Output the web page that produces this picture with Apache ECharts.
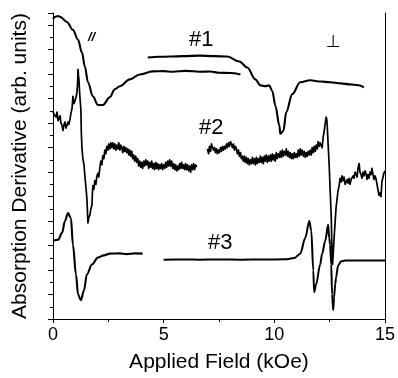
<!DOCTYPE html>
<html><head><meta charset="utf-8">
<script src="https://cdn.jsdelivr.net/npm/echarts@6/dist/echarts.min.js"></script>
<style>html,body{margin:0;padding:0;background:#fff}#c{width:398px;height:378px}</style>
</head><body><div id="c"></div>
<script>
// x: Applied Field (kOe), y: arbitrary units (offset traces)
const xTicks = [0, 5, 10, 15];
const s1Par = [[0,24.5],[0.09,24.68],[0.23,24.76],[0.32,24.68],[0.63,24.27],[0.9,23.62],[1.13,22.82],[1.31,21.76],[1.44,20.63],[1.58,19.34],[1.8,18.2],[2.03,17.48],[2.25,17.48],[2.57,18.12],[2.79,18.77],[3.02,19.01],[3.47,19.58],[3.92,19.98],[4.5,20.23],[5.0,20.25],[5.41,20.2],[6.0,20.27],[6.62,20.2],[7.1,20.22],[7.5,20.12],[8.0,20.1],[8.47,19.98]];
const s1Perp = [[4.28,21.36],[4.8,21.42],[5.27,21.44],[5.9,21.48],[6.62,21.52],[7.3,21.48],[7.88,21.44],[8.42,21.04],[8.78,20.55],[9.14,19.58],[9.37,19.09],[9.59,19.01],[9.77,19.09],[9.91,18.61],[10.05,17.39],[10.23,15.78],[10.27,15.13],[10.41,15.37],[10.54,16.91],[10.81,18.37],[11.17,19.34],[11.62,19.5],[12.1,19.4],[12.52,19.34],[13.0,19.25],[13.42,19.17],[13.8,19.1],[14.05,18.93]];
const s2Par = [[0.00,16.95],[0.05,16.7],[0.09,16.8],[0.14,16.5],[0.18,16.9],[0.23,16.2],[0.27,16.4],[0.32,16.6],[0.36,16.0],[0.41,15.8],[0.45,15.4],[0.50,15.9],[0.54,16.1],[0.59,15.6],[0.63,15.5],[0.68,16.1],[0.72,15.9],[0.77,16.35],[0.81,16.8],[0.86,17.2],[0.90,18.2],[0.95,17.6],[0.99,17.8],[1.04,18.1],[1.08,18.5],[1.11,19.2],[1.13,20.4],[1.15,19.9],[1.17,19.6],[1.21,18.3],[1.26,17.1],[1.28,15.2],[1.31,13.9],[1.35,13.1],[1.40,12.6],[1.44,11.7],[1.49,10.7],[1.53,9.9],[1.56,8.6],[1.58,7.85],[1.62,8.3],[1.67,8.5],[1.71,9.0],[1.76,9.3],[1.78,10.3],[1.80,10.9],[1.85,10.6],[1.89,11.3],[1.94,11.0],[1.98,11.65],[2.03,11.9],[2.07,11.6],[2.12,12.4],[2.16,12.9],[2.21,12.6],[2.25,13.35],[2.30,13.1],[2.34,13.8],[2.39,13.5],[2.43,14.1],[2.48,13.8],[2.52,14.3],[2.57,13.9],[2.61,14.4],[2.66,14.0],[2.70,14.4],[2.75,13.9],[2.79,14.3],[2.84,13.8],[2.88,14.2],[2.93,13.9],[2.97,14.4],[3.02,13.8],[3.06,14.2],[3.11,14.0],[3.15,13.6],[3.20,14.1],[3.24,13.7],[3.29,14.0],[3.33,13.6],[3.38,13.9],[3.42,13.4],[3.47,13.8],[3.51,13.3],[3.56,13.7],[3.60,13.1],[3.65,13.4],[3.69,12.9],[3.74,13.3],[3.78,12.8],[3.83,13.1],[3.87,12.5],[3.92,12.9],[3.96,12.4],[4.01,12.8],[4.05,12.3],[4.10,12.9],[4.14,12.5],[4.19,13.0],[4.23,12.6],[4.28,12.9],[4.32,12.3],[4.37,12.8],[4.41,12.4],[4.46,12.9],[4.50,12.3],[4.55,12.7],[4.59,12.2],[4.64,12.8],[4.68,12.3],[4.73,12.7],[4.77,12.2],[4.82,12.6],[4.86,12.3],[4.91,12.7],[4.95,12.2],[5.00,12.6],[5.05,12.3],[5.09,12.8],[5.14,12.4],[5.18,12.9],[5.23,12.5],[5.27,13.0],[5.32,12.5],[5.36,12.9],[5.41,12.3],[5.45,12.7],[5.50,12.2],[5.54,12.6],[5.59,12.1],[5.63,12.5],[5.68,12.2],[5.72,12.7],[5.77,12.3],[5.81,12.8],[5.86,12.3],[5.90,12.6],[5.95,12.2],[5.99,12.7],[6.04,12.2],[6.08,12.6],[6.13,12.1],[6.17,12.5],[6.22,12.0],[6.26,12.6],[6.31,12.2],[6.35,12.7],[6.40,12.2],[6.44,12.6],[6.49,12.4]];
const s2Perp = [[6.98,13.9],[7.03,13.5],[7.07,14.1],[7.12,13.7],[7.16,14.3],[7.21,14.3],[7.25,13.8],[7.30,14.0],[7.34,13.6],[7.39,13.9],[7.43,13.5],[7.48,13.8],[7.52,13.6],[7.57,14.0],[7.61,13.7],[7.66,14.1],[7.70,13.8],[7.75,14.1],[7.79,13.9],[7.84,14.3],[7.88,14.0],[7.93,14.4],[7.97,14.1],[8.02,14.5],[8.06,14.5],[8.11,14.0],[8.15,14.3],[8.20,13.8],[8.24,14.1],[8.29,13.9],[8.33,13.5],[8.38,13.8],[8.42,13.3],[8.47,13.6],[8.51,13.1],[8.56,13.3],[8.60,12.9],[8.65,13.3],[8.69,12.8],[8.74,13.2],[8.78,12.7],[8.83,13.1],[8.87,12.6],[8.92,13.0],[8.96,12.7],[9.01,13.2],[9.05,12.7],[9.10,13.1],[9.14,12.6],[9.19,13.2],[9.23,12.7],[9.28,13.1],[9.32,12.8],[9.37,13.3],[9.41,12.8],[9.46,13.2],[9.50,12.7],[9.55,13.3],[9.59,12.9],[9.64,13.4],[9.68,12.8],[9.73,13.3],[9.77,12.9],[9.82,13.4],[9.86,12.9],[9.91,13.5],[9.95,13.0],[10.00,13.4],[10.04,12.9],[10.09,13.6],[10.13,13.1],[10.18,13.5],[10.23,13.2],[10.27,13.7],[10.32,13.2],[10.36,13.8],[10.41,13.3],[10.45,13.7],[10.50,13.4],[10.54,13.9],[10.59,13.3],[10.63,13.7],[10.68,13.2],[10.72,13.6],[10.77,13.1],[10.81,13.5],[10.86,13.1],[10.90,13.6],[10.95,13.2],[10.99,13.5],[11.04,13.2],[11.08,13.8],[11.13,13.3],[11.17,13.9],[11.22,13.4],[11.26,13.8],[11.31,13.3],[11.35,13.7],[11.40,13.2],[11.44,13.6],[11.49,13.3],[11.53,13.7],[11.58,13.4],[11.62,13.8],[11.67,13.4],[11.71,14.0],[11.76,13.6],[11.80,14.1],[11.85,13.7],[11.89,14.2],[11.94,13.9],[11.98,14.5],[12.03,14.1],[12.07,14.4],[12.12,14.5],[12.16,14.0],[12.21,14.9],[12.25,15.3],[12.30,16.0],[12.34,16.5],[12.37,16.3],[12.39,15.8],[12.43,14.3],[12.48,12.5],[12.52,10.6],[12.57,8.5],[12.59,6.8],[12.61,5.0],[12.63,4.45],[12.66,5.3],[12.70,6.6],[12.75,8.0],[12.79,9.1],[12.84,9.9],[12.88,10.5],[12.93,10.9],[12.97,11.5],[13.02,11.2],[13.06,11.7],[13.11,11.3],[13.15,11.6],[13.20,11.0],[13.24,10.9],[13.29,11.4],[13.33,11.1],[13.38,11.5],[13.42,11.0],[13.47,11.4],[13.51,11.25],[13.56,11.7],[13.60,11.5],[13.65,12.0],[13.69,12.1],[13.74,11.6],[13.78,12.3],[13.83,12.7],[13.87,12.0],[13.92,11.8],[13.96,11.5],[14.01,12.0],[14.05,11.7],[14.10,12.1],[14.14,11.9],[14.19,11.4],[14.23,11.8],[14.28,11.5],[14.32,12.0],[14.37,11.8],[14.41,12.3],[14.46,11.8],[14.50,11.4],[14.55,11.7],[14.59,11.5],[14.64,11.0],[14.68,10.6],[14.73,10.1],[14.78,10.3],[14.82,10.0],[14.86,11.2],[14.91,11.6],[14.95,11.9],[15.00,12.1]];
const s3Par = [[0,6.39],[0.23,6.47],[0.41,7.04],[0.54,8.01],[0.68,8.66],[0.81,8.25],[0.9,6.07],[1.04,3.64],[1.13,2.02],[1.26,1.54],[1.4,2.35],[1.53,3.64],[1.76,4.45],[2.03,5.02],[2.3,5.2],[2.57,5.34],[3.0,5.36],[3.33,5.3],[3.7,5.36],[4.05,5.34]];
const s3Perp = [[5.0,4.85],[6.0,4.86],[6.62,4.85],[7.5,4.87],[8.5,4.85],[9.5,4.86],[10.5,4.88],[10.9,4.98],[11.17,5.34],[11.4,6.63],[11.58,8.01],[11.67,7.2],[11.76,3.96],[11.8,2.18],[11.89,2.83],[12.07,4.45],[12.16,5.34],[12.3,6.39],[12.43,7.69],[12.48,6.63],[12.52,6.07],[12.57,4.45],[12.61,2.02],[12.66,0.73],[12.7,1.78],[12.75,2.83],[12.79,3.4],[12.88,4.37],[13.02,4.72],[13.2,4.77],[14,4.77],[15,4.77]];
const labels = ['//', '#1', '\u22A5', '#2', '#3'];

const FONT = 'Liberation Sans, Arial, sans-serif';
const chart = echarts.init(document.getElementById('c'), null, {renderer: 'canvas'});
function line(data, smooth, width) {
  return {type: 'line', data: data, showSymbol: false, symbol: 'none', animation: false,
    smooth: smooth, smoothMonotone: 'x',
    lineStyle: {color: '#000', width: width, join: 'round'}, itemStyle: {color: '#000'}, z: 3};
}
chart.setOption({
  animation: false,
  backgroundColor: '#fff',
  grid: {left: 53, right: 12, top: 13, bottom: 56, containLabel: false},
  xAxis: {
    type: 'value', min: 0, max: 15, interval: 5,
    axisLine: {lineStyle: {color: '#000', width: 1}},
    axisTick: {show: true, length: 4, lineStyle: {color: '#000'}},
    minorTick: {show: true, splitNumber: 2, length: 3, lineStyle: {color: '#000'}},
    splitLine: {show: false},
    axisLabel: {color: '#000', fontSize: 18, fontFamily: FONT, margin: 7,
      formatter: v => xTicks.indexOf(v) >= 0 ? String(v) : ''},
    name: 'Applied Field (kOe)', nameLocation: 'middle', nameGap: 33,
    nameTextStyle: {color: '#000', fontSize: 21, fontFamily: FONT}
  },
  yAxis: [{
    type: 'value', min: 0, max: 25, interval: 2,
    axisLine: {show: true, lineStyle: {color: '#000', width: 1}},
    axisTick: {show: true, length: 5, lineStyle: {color: '#000'}},
    minorTick: {show: true, splitNumber: 2, length: 3, lineStyle: {color: '#000'}},
    splitLine: {show: false},
    axisLabel: {show: false},
    name: 'Absorption Derivative (arb. units)', nameLocation: 'middle', nameGap: 22,
    nameTextStyle: {color: '#000', fontSize: 21, fontFamily: FONT}
  }, {
    type: 'value', min: 0, max: 25, position: 'right',
    axisLine: {show: true, lineStyle: {color: '#000', width: 1}},
    axisTick: {show: false}, axisLabel: {show: false}, splitLine: {show: false}
  }],
  series: [line(s1Par, 0.35, 2.1), line(s1Perp, 0.35, 2.1), line(s2Par, false, 1.7), line(s2Perp, false, 1.7), line(s3Par, 0.35, 2.1), line(s3Perp, 0.3, 2.0)],
  graphic: [
    {type: 'text', left: 88, top: 31, style: {text: labels[0], fontSize: 13, fontStyle: 'italic', fontWeight: 'bold', fontFamily: FONT, fill: '#000'}},
    {type: 'text', left: 189, top: 29, style: {text: labels[1], fontSize: 22, fontFamily: FONT, fill: '#000'}},
    {type: 'text', left: 326, top: 34, style: {text: labels[2], fontSize: 17, fontFamily: 'DejaVu Sans, sans-serif', fill: '#000'}},
    {type: 'text', left: 199, top: 117, style: {text: labels[3], fontSize: 22, fontFamily: FONT, fill: '#000'}},
    {type: 'text', left: 208, top: 232, style: {text: labels[4], fontSize: 22, fontFamily: FONT, fill: '#000'}}
  ]
});
</script></body></html>
